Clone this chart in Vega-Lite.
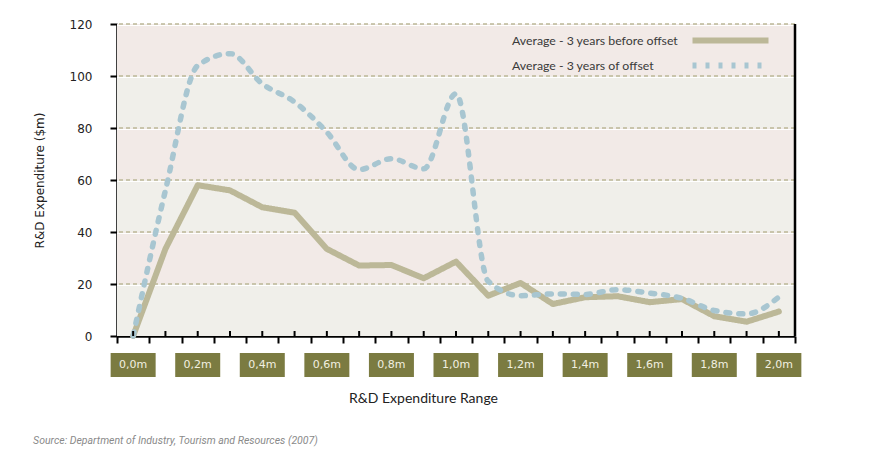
{
  "$schema": "https://vega.github.io/schema/vega-lite/v6.json",
  "padding": {"left": 33, "top": 18, "right": 10, "bottom": 8},
  "spacing": 9,
  "datasets": {
    "bands": [
      {"lo": 0, "hi": 20, "tone": "plain"},
      {"lo": 20, "hi": 40, "tone": "tinted"},
      {"lo": 40, "hi": 60, "tone": "plain"},
      {"lo": 60, "hi": 80, "tone": "tinted"},
      {"lo": 80, "hi": 100, "tone": "plain"},
      {"lo": 100, "hi": 120, "tone": "tinted"}
    ],
    "lines": [
      {"range": "0.0", "series": "Average - 3 years before offset", "value": 0},
      {"range": "0.1", "series": "Average - 3 years before offset", "value": 33.5},
      {"range": "0.2", "series": "Average - 3 years before offset", "value": 58},
      {"range": "0.3", "series": "Average - 3 years before offset", "value": 56},
      {"range": "0.4", "series": "Average - 3 years before offset", "value": 49.5},
      {"range": "0.5", "series": "Average - 3 years before offset", "value": 47.4},
      {"range": "0.6", "series": "Average - 3 years before offset", "value": 33.5},
      {"range": "0.7", "series": "Average - 3 years before offset", "value": 27.1},
      {"range": "0.8", "series": "Average - 3 years before offset", "value": 27.3},
      {"range": "0.9", "series": "Average - 3 years before offset", "value": 22.2},
      {"range": "1.0", "series": "Average - 3 years before offset", "value": 28.6},
      {"range": "1.1", "series": "Average - 3 years before offset", "value": 15.5},
      {"range": "1.2", "series": "Average - 3 years before offset", "value": 20.4},
      {"range": "1.3", "series": "Average - 3 years before offset", "value": 12.3},
      {"range": "1.4", "series": "Average - 3 years before offset", "value": 14.9},
      {"range": "1.5", "series": "Average - 3 years before offset", "value": 15.3},
      {"range": "1.6", "series": "Average - 3 years before offset", "value": 13},
      {"range": "1.7", "series": "Average - 3 years before offset", "value": 14.2},
      {"range": "1.8", "series": "Average - 3 years before offset", "value": 7.6},
      {"range": "1.9", "series": "Average - 3 years before offset", "value": 5.5},
      {"range": "2.0", "series": "Average - 3 years before offset", "value": 9.4},
      {"range": "0.0", "series": "Average - 3 years of offset", "value": 0},
      {"range": "0.1", "series": "Average - 3 years of offset", "value": 56},
      {"range": "0.2", "series": "Average - 3 years of offset", "value": 104},
      {"range": "0.3", "series": "Average - 3 years of offset", "value": 108.6},
      {"range": "0.4", "series": "Average - 3 years of offset", "value": 97},
      {"range": "0.5", "series": "Average - 3 years of offset", "value": 90},
      {"range": "0.6", "series": "Average - 3 years of offset", "value": 78.4},
      {"range": "0.7", "series": "Average - 3 years of offset", "value": 64},
      {"range": "0.8", "series": "Average - 3 years of offset", "value": 68.2},
      {"range": "0.9", "series": "Average - 3 years of offset", "value": 64.3},
      {"range": "1.0", "series": "Average - 3 years of offset", "value": 93.2},
      {"range": "1.1", "series": "Average - 3 years of offset", "value": 21},
      {"range": "1.2", "series": "Average - 3 years of offset", "value": 15.5},
      {"range": "1.3", "series": "Average - 3 years of offset", "value": 16.2},
      {"range": "1.4", "series": "Average - 3 years of offset", "value": 16},
      {"range": "1.5", "series": "Average - 3 years of offset", "value": 17.8},
      {"range": "1.6", "series": "Average - 3 years of offset", "value": 16.5},
      {"range": "1.7", "series": "Average - 3 years of offset", "value": 14.5},
      {"range": "1.8", "series": "Average - 3 years of offset", "value": 9.8},
      {"range": "1.9", "series": "Average - 3 years of offset", "value": 8.5},
      {"range": "2.0", "series": "Average - 3 years of offset", "value": 15}
    ],
    "labels": [
      {"range": "0.0", "label": "0,0m"},
      {"range": "0.2", "label": "0,2m"},
      {"range": "0.4", "label": "0,4m"},
      {"range": "0.6", "label": "0,6m"},
      {"range": "0.8", "label": "0,8m"},
      {"range": "1.0", "label": "1,0m"},
      {"range": "1.2", "label": "1,2m"},
      {"range": "1.4", "label": "1,4m"},
      {"range": "1.6", "label": "1,6m"},
      {"range": "1.8", "label": "1,8m"},
      {"range": "2.0", "label": "2,0m"}
    ]
  },
  "title": {
    "text": "Source: Department of Industry, Tourism and Resources (2007)",
    "orient": "bottom",
    "anchor": "start",
    "font": "Roboto",
    "fontSize": 10.5,
    "fontStyle": "italic",
    "fontWeight": "normal",
    "color": "#8a8a8a",
    "offset": 31
  },
  "vconcat": [
    {
      "width": 678,
      "height": 312,
      "layer": [
        {
          "data": {"name": "bands"},
          "mark": {"type": "rect"},
          "encoding": {
            "y": {"field": "lo", "type": "quantitative", "scale": {"domain": [0, 120], "nice": false}, "axis": {"title": "R&D Expenditure ($m)", "values": [0, 20, 40, 60, 80, 100, 120]}},
            "y2": {"field": "hi"},
            "fill": {"field": "tone", "type": "nominal", "scale": {"domain": ["plain", "tinted"], "range": ["#f0efea", "#f2eae7"]}, "legend": null}
          }
        },
        {
          "data": {"name": "bands"},
          "mark": {"type": "rule", "color": "#ffffff", "strokeWidth": 1, "yOffset": 1.5},
          "encoding": {
            "y": {"field": "hi", "type": "quantitative", "axis": {"title": "R&D Expenditure ($m)", "values": [0, 20, 40, 60, 80, 100, 120]}}
          }
        },
        {
          "data": {"name": "bands"},
          "mark": {"type": "rule", "color": "#bcb898", "strokeWidth": 1.6, "strokeDash": [4, 3]},
          "encoding": {
            "y": {"field": "hi", "type": "quantitative", "axis": {"title": "R&D Expenditure ($m)", "values": [0, 20, 40, 60, 80, 100, 120]}}
          }
        },
        {
          "data": {"name": "lines"},
          "transform": [{"filter": "datum.series === 'Average - 3 years before offset'"}],
          "mark": {"type": "line", "strokeWidth": 6, "strokeCap": "round", "strokeJoin": "round", "interpolate": "linear"},
          "encoding": {
            "x": {"field": "range", "type": "ordinal", "bandPosition": 0.5, "scale": {"type": "band", "domain": ["0.0","0.1","0.2","0.3","0.4","0.5","0.6","0.7","0.8","0.9","1.0","1.1","1.2","1.3","1.4","1.5","1.6","1.7","1.8","1.9","2.0"], "paddingInner": 0, "paddingOuter": 0}},
            "y": {"field": "value", "type": "quantitative", "axis": {"title": "R&D Expenditure ($m)", "values": [0, 20, 40, 60, 80, 100, 120]}},
            "color": {"field": "series", "type": "nominal", "scale": {"domain": ["Average - 3 years before offset", "Average - 3 years of offset"], "range": ["#bcb898", "#a8c6d1"]}, "legend": {"title": null}},
            "strokeDash": {"field": "series", "type": "nominal", "scale": {"domain": ["Average - 3 years before offset", "Average - 3 years of offset"], "range": [[1, 0], [4, 9]]}, "legend": {"title": null}}
          }
        },
        {
          "data": {"name": "lines"},
          "transform": [{"filter": "datum.series === 'Average - 3 years of offset'"}],
          "mark": {"type": "line", "strokeWidth": 5.5, "strokeCap": "round", "strokeJoin": "round", "interpolate": "monotone"},
          "encoding": {
            "x": {"field": "range", "type": "ordinal", "bandPosition": 0.5},
            "y": {"field": "value", "type": "quantitative", "axis": {"title": "R&D Expenditure ($m)", "values": [0, 20, 40, 60, 80, 100, 120]}},
            "color": {"field": "series", "type": "nominal", "legend": {"title": null}},
            "strokeDash": {"field": "series", "type": "nominal", "legend": {"title": null}}
          }
        },
        {
          "data": {"name": "lines"},
          "transform": [{"filter": "datum.series === 'Average - 3 years before offset'"}],
          "mark": {"type": "rule", "color": "#000000", "strokeWidth": 2, "y2Offset": -5},
          "encoding": {
            "x": {"field": "range", "type": "ordinal", "bandPosition": 0.5},
            "y": {"datum": 0, "type": "quantitative"},
            "y2": {"datum": 0}
          }
        },
        {
          "data": {"name": "lines"},
          "transform": [{"filter": "datum.range === '2.0' && datum.series === 'Average - 3 years before offset'"}],
          "mark": {"type": "rule", "color": "#000000", "strokeWidth": 2.5},
          "encoding": {
            "x": {"field": "range", "type": "ordinal", "bandPosition": 1},
            "y": {"datum": 0, "type": "quantitative"},
            "y2": {"datum": 120}
          }
        }
      ]
    },
    {
      "width": 678,
      "height": 24,
      "data": {"name": "labels"},
      "layer": [
        {
          "mark": {"type": "bar", "width": 45, "color": "#7b7b41"},
          "encoding": {
            "x": {"field": "range", "type": "ordinal", "scale": {"type": "band", "domain": ["0.0","0.1","0.2","0.3","0.4","0.5","0.6","0.7","0.8","0.9","1.0","1.1","1.2","1.3","1.4","1.5","1.6","1.7","1.8","1.9","2.0"], "paddingInner": 0, "paddingOuter": 0},
              "axis": {"title": "R&D Expenditure Range", "domain": false, "ticks": false, "labels": false, "titleFont": "Lato", "titleFontSize": 14, "titleFontWeight": "normal", "titleColor": "#222222", "titlePadding": 14, "titleX": 306, "titleAnchor": "middle"}}
          }
        },
        {
          "mark": {"type": "text", "color": "#f2f0e0", "font": "DejaVu Sans", "fontSize": 11},
          "encoding": {
            "x": {"field": "range", "type": "ordinal"},
            "text": {"field": "label"}
          }
        }
      ]
    }
  ],
  "config": {
    "view": {"stroke": null},
    "axis": {
      "labelFont": "DejaVu Sans",
      "titleFont": "DejaVu Sans",
      "labelColor": "#222222",
      "titleColor": "#222222",
      "domainColor": "#000000",
      "tickColor": "#000000",
      "grid": false
    },
    "axisY": {
      "domainWidth": 2.5,
      "tickWidth": 2,
      "tickSize": 7,
      "labelPadding": 18,
      "labelFontSize": 12,
      "titleFontSize": 12,
      "titleFontWeight": "normal",
      "titlePadding": 23
    },
    "axisX": {
      "domainWidth": 2.5,
      "tickWidth": 2,
      "tickSize": 7,
      "tickBand": "extent",
      "labels": false,
      "title": null
    },
    "legend": {
      "orient": "none",
      "legendX": 601,
      "legendY": 4,
      "symbolType": "M-4,0H4",
      "symbolSize": 361,
      "symbolStrokeWidth": 6,
      "labelFont": "Lato",
      "labelFontSize": 12.3,
      "labelColor": "#3a3a3a",
      "labelAlign": "left",
      "labelOffset": -231,
      "labelLimit": 400,
      "rowPadding": -13,
      "padding": 0
    }
  }
}
